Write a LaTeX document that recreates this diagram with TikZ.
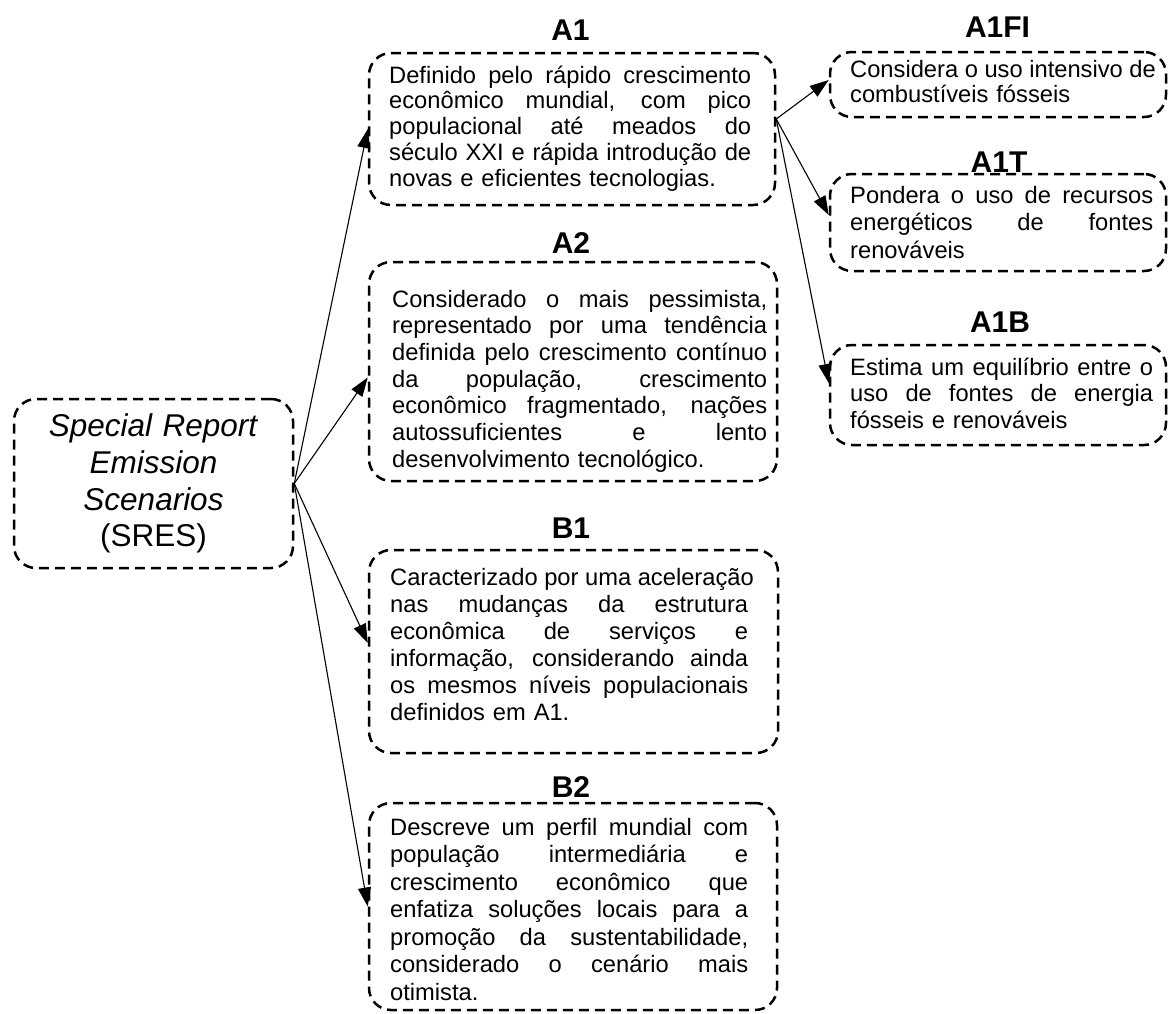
\documentclass[tikz,border=0pt]{standalone}
\usepackage{fontspec}
\setmainfont{Liberation Sans}
\usetikzlibrary{arrows.meta}

% width of a fully justified body line, set by the bodytext style
\newlength\jw
% one fully justified line of body text: the spaces share the free room
\newcommand\jl[1]{\leavevmode{\spaceskip=0.278em plus 1fil\relax\hbox to\jw{#1}}\\}

\tikzset{
  scenbox/.style={draw, line width=2.5pt, dash pattern=on 10pt off 6pt,
    rounded corners=22pt, inner sep=0pt},
  bodytext/.style 2 args={anchor=base west, inner sep=0pt, text width=#1+2pt,
    align=left, font=\fontsize{23.7}{#2}\selectfont,
    execute at begin node={\setlength{\jw}{#1}}},
  boxtitle/.style={anchor=base, inner sep=0pt,
    font=\bfseries\fontsize{30}{32}\selectfont},
  conn/.style={-{Triangle[length=19pt,width=13pt]}, line width=1.1pt},
}

\begin{document}
\begin{tikzpicture}[x=1pt, y=-1pt]
\useasboundingbox (0,0) rectangle (1168,1013);

% ---- root box ----
\node[scenbox, minimum width=279pt, minimum height=169pt] (sres) at (153.5,483.5) {};
\node[anchor=base, inner sep=0pt, text width=260pt, align=center,
      font=\fontsize{31.5}{36.7}\selectfont] (sres-txt) at (153.5,436.7)
  {\textit{Special Report}\\ \textit{Emission}\\ \textit{Scenarios}\\ (SRES)};

% ---- scenario families ----
\node[boxtitle] (a1-title) at (570.5,40) {A1};
\node[scenbox, minimum width=406pt, minimum height=152pt] (a1) at (572,129) {};
\node[bodytext={362pt}{25.9}] (a1-txt) at (389,83)
  {\jl{Definido pelo rápido crescimento}\jl{econômico mundial, com pico}\jl{populacional até meados do}\jl{século XXI e rápida introdução de}novas e eficientes tecnologias.};

\node[boxtitle] (a2-title) at (571,253) {A2};
\node[scenbox, minimum width=408pt, minimum height=219pt] (a2) at (573,371.5) {};
\node[bodytext={375pt}{26.7}] (a2-txt) at (392,307)
  {\jl{Considerado o mais pessimista,}\jl{representado por uma tendência}\jl{definida pelo crescimento contínuo}\jl{da população, crescimento}\jl{econômico fragmentado, nações}\jl{autossuficientes e lento}desenvolvimento tecnológico.};

\node[boxtitle] (b1-title) at (571,538) {B1};
\node[scenbox, minimum width=409pt, minimum height=203pt] (b1) at (573.5,651.5) {};
\node[bodytext={358pt}{27}] (b1-txt) at (390,585)
  {\jl{Caracterizado por uma aceleração}\jl{nas mudanças da estrutura}\jl{econômica de serviços e}\jl{informação, considerando ainda}\jl{os mesmos níveis populacionais}definidos em A1.};

\node[boxtitle] (b2-title) at (571,797) {B2};
\node[scenbox, minimum width=408pt, minimum height=207pt] (b2) at (573,906.5) {};
\node[bodytext={358pt}{27.5}] (b2-txt) at (390,835)
  {\jl{Descreve um perfil mundial com}\jl{população intermediária e}\jl{crescimento econômico que}\jl{enfatiza soluções locais para a}\jl{promoção da sustentabilidade,}\jl{considerado o cenário mais}otimista.};

% ---- A1 sub-scenarios ----
\node[boxtitle] (a1fi-title) at (997.5,37) {A1FI};
\node[scenbox, minimum width=336pt, minimum height=65pt] (a1fi) at (998,84.5) {};
\node[bodytext={303pt}{25.3}] (a1fi-txt) at (850,77.3)
  {\jl{Considera o uso intensivo de}combustíveis fósseis};

\node[boxtitle] (a1t-title) at (999,172) {A1T};
\node[scenbox, minimum width=336pt, minimum height=97pt] (a1t) at (998,222.5) {};
\node[bodytext={303pt}{27.5}] (a1t-txt) at (850,203.3)
  {\jl{Pondera o uso de recursos}\jl{energéticos de fontes}renováveis};

\node[boxtitle] (a1b-title) at (1000,332) {A1B};
\node[scenbox, minimum width=336pt, minimum height=100pt] (a1b) at (998,395) {};
\node[bodytext={303pt}{26.7}] (a1b-txt) at (850,375)
  {\jl{Estima um equilíbrio entre o}\jl{uso de fontes de energia}fósseis e renováveis};

% ---- connectors ----
\draw[conn] (sres.east) -- (a1.west);
\draw[conn] (sres.east) -- ([yshift=-6pt]a2.west);
\draw[conn] (sres.east) -- ([yshift=8.5pt]b1.west);
\draw[conn] (sres.east) -- (b2.west);

\draw[conn] ([yshift=10pt]a1.east) -- ([yshift=4.5pt]a1fi.west);
\draw[conn] ([yshift=10pt]a1.east) -- ([yshift=7.5pt]a1t.west);
\draw[conn] ([yshift=10pt]a1.east) -- ([yshift=12pt]a1b.west);
\end{tikzpicture}
\end{document}
